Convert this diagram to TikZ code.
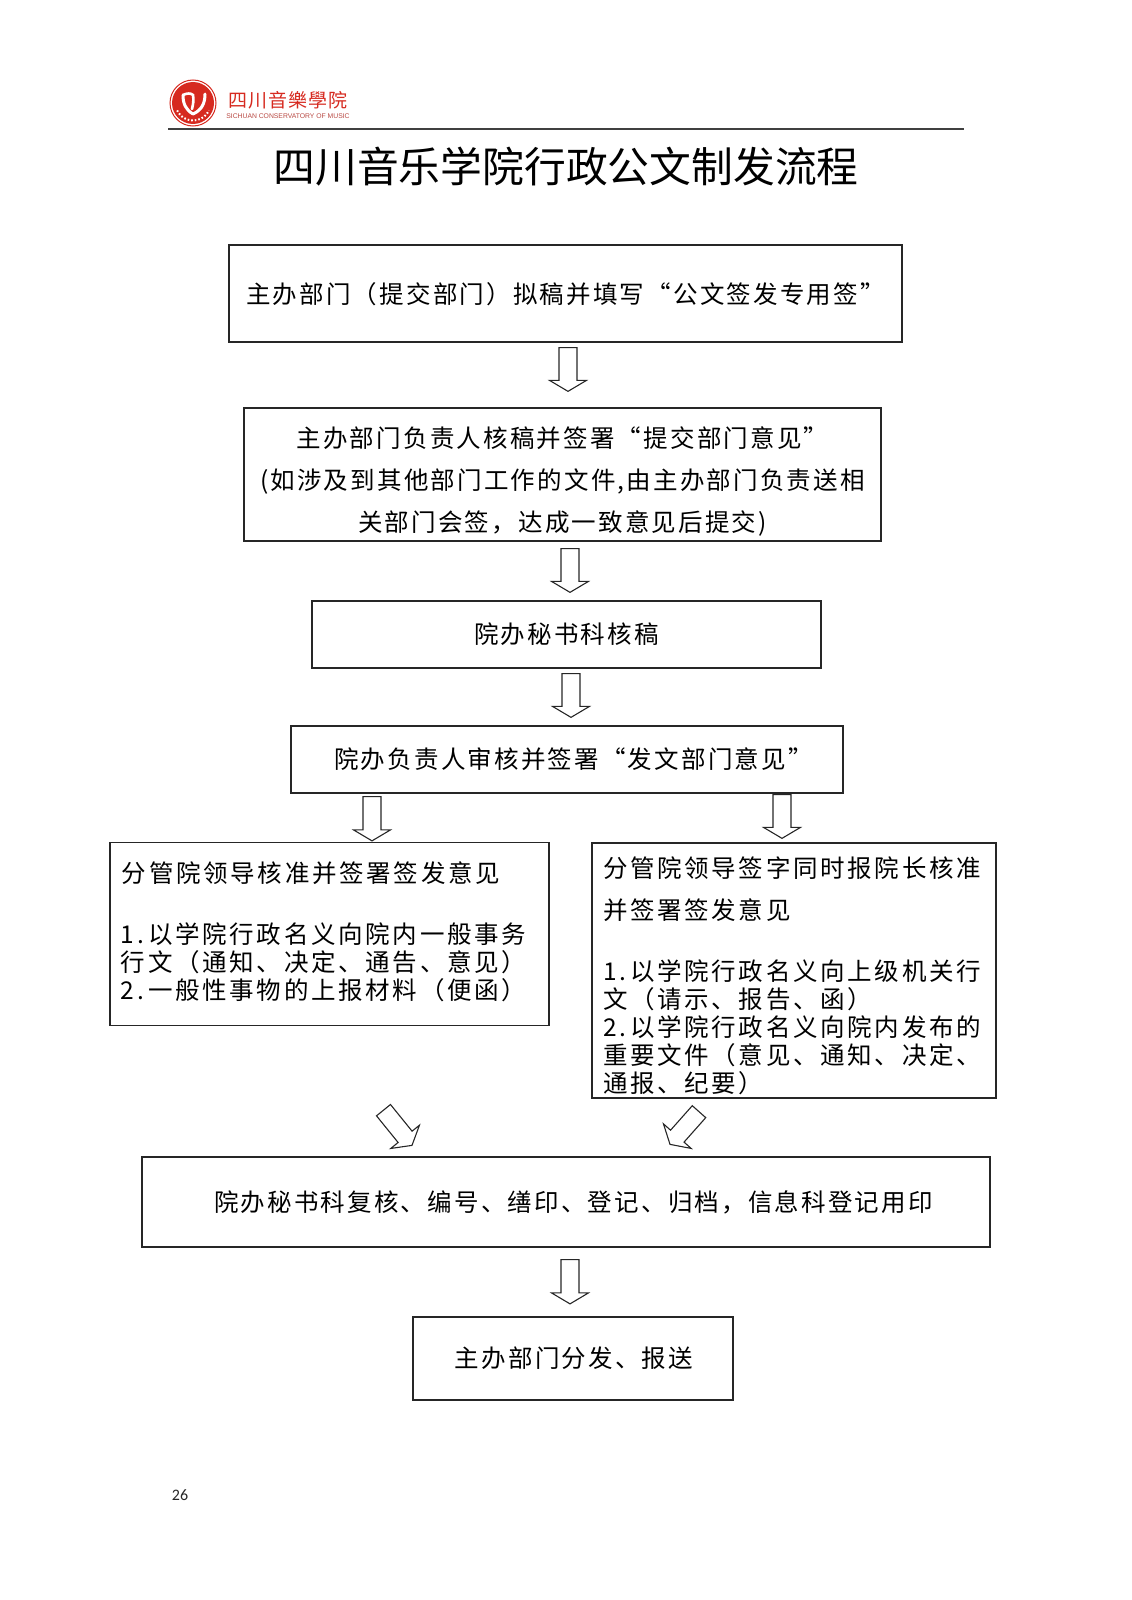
\documentclass[tikz,border=0pt]{standalone}
\usepackage{fontspec}
\usetikzlibrary{calc,positioning}
\setmainfont{Noto Sans CJK SC}
\newfontfamily\bodyfont[LetterSpace=9]{Noto Sans CJK SC}
\newfontfamily\listfont[LetterSpace=11]{Noto Sans CJK SC}
\newfontfamily\logofont[LetterSpace=6]{Noto Sans CJK SC}
\newfontfamily\pagefont{Carlito}
\newfontfamily\latinfont{Liberation Sans}
\definecolor{logored}{HTML}{D62A20}
\newcommand{\dropby}[1]{\rule{0pt}{\dimexpr 21.5bp+#1\relax}}

\begin{document}
\begin{tikzpicture}[x=1bp,y=1bp,node distance=100bp,on grid]
       \tikzstyle{flow}=[draw=black!85,line width=1.3bp,inner xsep=11bp,inner ysep=0pt,
         font=\fontsize{24.5bp}{28bp}\bodyfont,align=center]
       \tikzstyle{flow list}=[flow,font=\fontsize{24.5bp}{28bp}\listfont,align=left]
       \tikzstyle{blockarrow}=[draw=black!85,line width=1.1bp,line join=miter,
         to path={(\tikztotarget)
           -- ($(\tikztotarget)!21.5bp!59.3:(\tikztostart)$)
           -- ($(\tikztotarget)!14.2bp!39.3:(\tikztostart)$)
           -- ($(\tikztostart)!9bp!-90:(\tikztotarget)$)
           -- ($(\tikztostart)!9bp!90:(\tikztotarget)$)
           -- ($(\tikztotarget)!14.2bp!-39.3:(\tikztostart)$)
           -- ($(\tikztotarget)!21.5bp!-59.3:(\tikztostart)$)
           -- cycle}]

       \useasboundingbox (0,0) rectangle (1131,-1600);

       % header
       \filldraw[draw=logored,fill=white,line width=1bp] (193,-103) circle (23);
       \fill[logored] (193,-103) circle (21);
       \draw[white,line width=3bp,line cap=round] (183,-95) .. controls (183,-104) and (186,-110) .. (193,-114);
       \draw[white,line width=2.6bp,line cap=round] (183,-95) .. controls (187,-93) and (191,-93) .. (193,-95) .. controls (194,-100) and (193,-105) .. (192,-109);
       \draw[white,line width=3bp,line cap=round] (205,-94) .. controls (205,-103) and (202,-110) .. (193,-114);
       \draw[white,line width=2bp,dash pattern=on 1.6bp off 2bp] (193,-103) ++(205:17.5) arc (205:335:17.5);
       \node[text=logored,font=\fontsize{19bp}{20bp}\logofont] (logo_cn) at (288,-100) {四川音樂學院};
       \node[text=logored!65!gray,font=\fontsize{6.8bp}{8bp}\latinfont] (logo_en) at (288,-116.5) {SICHUAN CONSERVATORY OF MUSIC};
       \draw[black!75,line width=1.5bp] (168,-129) -- (963.5,-129);
       \node[font=\fontsize{41.8bp}{44bp}\selectfont] (title) at (566,-167) {四川音乐学院行政公文制发流程};

       % boxes
       \node[flow,minimum width=673bp,minimum height=97bp] (box_1) at (565.5,-293.5)
         {\dropby{0bp}主办部门（提交部门）拟稿并填写“公文签发专用签”};
       \node[flow,minimum width=637bp,minimum height=133bp] (box_2) [below=181bp of box_1,xshift=-3bp]
         {\dropby{14bp}主办部门负责人核稿并签署“提交部门意见”\\[14bp](如涉及到其他部门工作的文件,由主办部门负责送相\\[14bp]关部门会签，达成一致意见后提交)};
       \node[flow,minimum width=509bp,minimum height=67bp] (box_3) [below=160bp of box_2,xshift=4bp]
         {院办秘书科核稿};
       \node[flow,minimum width=552bp,minimum height=67bp] (box_4) [below=125bp of box_3,xshift=0.5bp]
         {\hspace*{13bp}院办负责人审核并签署“发文部门意见”};
       \node[flow list,minimum width=439bp,minimum height=183bp,text width=417bp] (box_5) [below=174.5bp of box_4,xshift=-237.5bp]
         {\hspace*{1bp}分管院领导核准并签署签发意见\\[33bp]1.\kern4bp 以学院行政名义向院内一般事务\\行文（通知、决定、通告、意见）\\2.\kern4bp 一般性事物的上报材料（便函）\rule[-6bp]{0pt}{0pt}};
       \node[flow list,minimum width=404bp,minimum height=255bp,text width=382bp] (box_6) [below=211bp of box_4,xshift=227bp]
         {\dropby{9bp}分管院领导签字同时报院长核准\\[14bp]并签署签发意见\\[33bp]1.\kern4bp 以学院行政名义向上级机关行\\文（请示、报告、函）\\2.\kern4bp 以学院行政名义向院内发布的\\重要文件（意见、通知、决定、\\通报、纪要）};
       \node[flow,minimum width=848bp,minimum height=90bp] (box_7) [below=268bp of box_5,xshift=236.5bp]
         {\hspace*{15bp}院办秘书科复核、编号、缮印、登记、归档，信息科登记用印};
       \node[flow,minimum width=320bp,minimum height=83bp] (box_8) [below=156.5bp of box_7,xshift=7bp]
         {\hspace*{2bp}主办部门分发、报送};

       % ends of the block arrows
       \coordinate (a_1s) at ([shift={(2.5,-5)}]box_1.south);
       \coordinate (a_1t) at ([shift={(5.5,16)}]box_2.north);
       \coordinate (a_2s) at ([shift={(7.5,-7)}]box_2.south);
       \coordinate (a_2t) at ([shift={(3.5,8)}]box_3.north);
       \coordinate (a_3s) at ([shift={(4.5,-5)}]box_3.south);
       \coordinate (a_3t) at ([shift={(4,8)}]box_4.north);
       \coordinate (a_4s) at ([shift={(-195,-3)}]box_4.south);
       \coordinate (a_4t) at ([shift={(42.5,1)}]box_5.north);
       \coordinate (a_5s) at ([shift={(215,-1)}]box_4.south);
       \coordinate (a_5t) at ([shift={(-12,4)}]box_6.north);
       \coordinate (a_6s) at ([shift={(54,-84)}]box_5.south);
       \coordinate (a_6t) at ([shift={(-154,11)}]box_7.north);
       \coordinate (a_7s) at ([shift={(-95,-13)}]box_6.south);
       \coordinate (a_7t) at ([shift={(104,12)}]box_7.north);
       \coordinate (a_8s) at ([shift={(4,-12)}]box_7.south);
       \coordinate (a_8t) at ([shift={(-3,12.5)}]box_8.north);

       \path[blockarrow]
       (a_1s) to (a_1t)
       (a_2s) to (a_2t)
       (a_3s) to (a_3t)
       (a_4s) to (a_4t)
       (a_5s) to (a_5t)
       (a_6s) to (a_6t)
       (a_7s) to (a_7t)
       (a_8s) to (a_8t);

       \node[font=\fontsize{16bp}{18bp}\pagefont,text=black!85] (page_no) at (180,-1495) {26};
     \end{tikzpicture}
\end{document}
